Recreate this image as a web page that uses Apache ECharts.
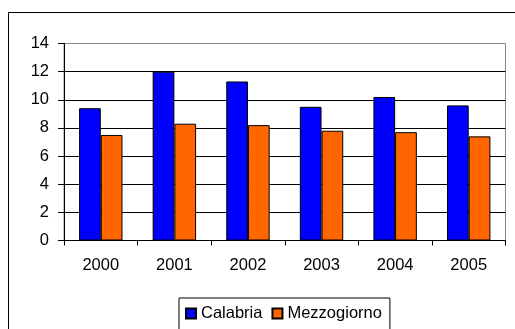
<!DOCTYPE html>
<html>
<head>
<meta charset="utf-8">
<script src="https://cdn.jsdelivr.net/npm/echarts@6/dist/echarts.min.js"></script>
<style>
  html, body { margin: 0; padding: 0; background: #fff; }
  #chart { width: 515px; height: 329px; }
</style>
</head>
<body>
<div id="chart"></div>
<script>
// Years on the category axis
const years = ['2000', '2001', '2002', '2003', '2004', '2005'];
// Series values
const calabria = [9.4, 12.0, 11.3, 9.5, 10.2, 9.6];
const mezzogiorno = [7.5, 8.3, 8.2, 7.8, 7.7, 7.4];
// Value axis range
const yMin = 0, yMax = 14, yStep = 2;

const font = '"Liberation Sans", Arial, sans-serif';
const chart = echarts.init(document.getElementById('chart'), null, { renderer: 'canvas' });

chart.setOption({
  animation: false,
  backgroundColor: '#fff',
  textStyle: { fontFamily: font },
  graphic: [{
    type: 'rect',
    shape: { x: 8.5, y: 12.5, width: 600, height: 400 },
    style: { fill: 'none', stroke: '#000', lineWidth: 1 },
    silent: true,
    z: -1
  }],
  grid: {
    left: 64, right: 9.5, top: 43.5, bottom: 88.5,
    show: true, borderColor: '#888', borderWidth: 1, backgroundColor: '#fff'
  },
  legend: {
    left: 179, top: 298,
    orient: 'horizontal',
    itemWidth: 10, itemHeight: 10,
    itemGap: 9,
    icon: 'rect',
    borderColor: '#000', borderWidth: 1,
    padding: [7, 8, 10, 6],
    textStyle: { fontFamily: font, fontSize: 16.5, color: '#000' },
    data: ['Calabria', 'Mezzogiorno']
  },
  xAxis: {
    type: 'category',
    data: years,
    axisLine: { lineStyle: { color: '#000', width: 1 } },
    axisTick: { show: true, length: 5, lineStyle: { color: '#000' } },
    axisLabel: { color: '#000', fontSize: 16.5, fontFamily: font, margin: 16 },
    splitLine: { show: false }
  },
  yAxis: {
    type: 'value',
    min: yMin, max: yMax, interval: yStep,
    axisLine: { show: true, lineStyle: { color: '#000', width: 1 } },
    axisTick: { show: true, length: 6, lineStyle: { color: '#000' } },
    axisLabel: { color: '#000', fontSize: 16.5, fontFamily: font, margin: 15 },
    splitLine: {
      show: true,
      lineStyle: { color: ['#000', '#000', '#000', '#000', '#000', '#000', '#000', '#888'], width: 1 }
    }
  },
  series: [
    {
      name: 'Calabria', type: 'bar', data: calabria,
      barGap: '0%', barCategoryGap: '41%',
      itemStyle: { color: '#0000ff', borderColor: '#000', borderWidth: 1 }
    },
    {
      name: 'Mezzogiorno', type: 'bar', data: mezzogiorno,
      barGap: '0%', barCategoryGap: '41%',
      itemStyle: { color: '#ff6600', borderColor: '#000', borderWidth: 1 }
    }
  ]
});
</script>
</body>
</html>
